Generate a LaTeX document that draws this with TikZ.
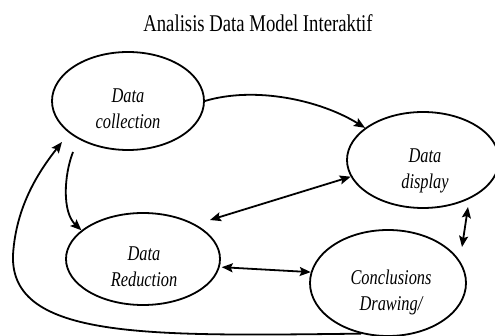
\documentclass[tikz,border=0pt]{standalone}
\usepackage{fontspec}
\newfontfamily\diagfont[FakeStretch=0.78]{Liberation Serif}
\usetikzlibrary{shapes.geometric,arrows.meta}
\begin{document}
\begin{tikzpicture}[x=1pt,y=-1pt,line width=1.8pt,
  stage/.style={draw,ellipse,inner sep=0pt},
  lbl/.style={align=center,font=\diagfont\itshape\fontsize{21}{26}\selectfont,inner sep=0pt},
  arr/.style={-{Stealth[length=11pt,width=9pt,inset=2pt]}},
  darr/.style={{Stealth[length=11pt,width=9pt,inset=2pt]}-{Stealth[length=11pt,width=9pt,inset=2pt]}}]
\useasboundingbox (0,0) rectangle (495,336);
\node[font=\diagfont\fontsize{24}{26}\selectfont,inner sep=0pt] (title) at (258,23) {Analisis Data Model Interaktif};
\node[stage,minimum width=152pt,minimum height=98pt]  (col)  at (128,101) {};
\node[stage,minimum width=152pt,minimum height=96pt]  (disp) at (423,160) {};
\node[stage,minimum width=154pt,minimum height=92pt]  (red)  at (143,259) {};
\node[stage,minimum width=156pt,minimum height=106pt] (conc) at (388,283) {};
\node[lbl] (coltxt)  at (128,109) {Data\\collection};
\node[lbl] (disptxt) at (425,171) {Data\\display};
\node[lbl] (redtxt)  at (144,267) {Data\\Reduction};
\node[lbl] (conctxt) at (391,292) {Conclusions\\Drawing/};
\coordinate (colout)  at (73,152);
\coordinate (redtip)  at (210,220);
\coordinate (looptip) at (62,142);
\coordinate (dispbot) at (468,207);
\coordinate (conctop) at (462,247);
\draw[arr] (col.east) .. controls (255,86) and (320,100) .. (disp.151);
\draw[arr] (colout) .. controls (64,175) and (62,212) .. (red.155);
\draw[darr] (redtip) -- (disp.193);
\draw[darr,shorten <=2pt] (red.-6) -- (conc.172);
\draw[darr] (dispbot) -- (conctop);
\draw[arr] (conc.242) .. controls (150,336) and (10,340) .. (13,255)
  .. controls (16,205) and (40,170) .. (looptip);
\end{tikzpicture}
\end{document}
